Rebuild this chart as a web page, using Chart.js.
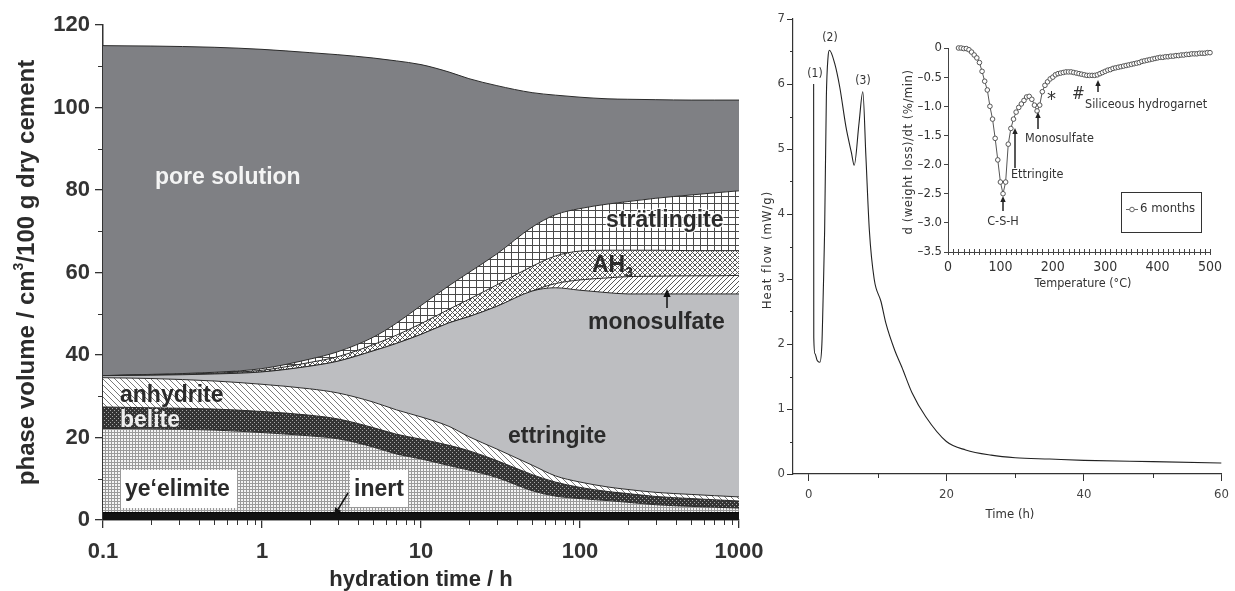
<!DOCTYPE html>
<html>
<head>
<meta charset="utf-8">
<title>Phase assemblage, heat flow and DTG</title>
<script src="https://cdn.jsdelivr.net/npm/chart.js@4.4.1/dist/chart.umd.min.js"></script>
<style>
  html, body { margin: 0; padding: 0; background: #fff; }
  #page { position: relative; width: 1235px; height: 591px; overflow: hidden; background: #fff; }
  #page canvas { position: absolute; }
</style>
</head>
<body>
<div id="page">
  <canvas id="phaseChart" width="780" height="591" style="left:0px;top:0px"></canvas>
  <canvas id="heatChart" width="475" height="591" style="left:760px;top:0px"></canvas>
  <canvas id="dtgChart" width="355" height="270" style="left:880px;top:30px"></canvas>
</div>
<script>
// ---- left chart: phase volumes (cm3 / 100 g dry cement) vs hydration time (h)
const hours       = [0.1, 0.2, 0.5, 1, 2, 3, 5, 7, 10, 15, 20, 30, 50, 70, 100, 150, 200, 300, 500, 700, 1000];
const inert       = [1.8, 1.8, 1.8, 1.8, 1.8, 1.8, 1.8, 1.8, 1.8, 1.8, 1.8, 1.8, 1.8, 1.8, 1.8, 1.8, 1.8, 1.8, 1.8, 1.8, 1.8];
const yeelimite   = [20.4, 20.3, 20.0, 19.4, 18.6, 17.9, 15.9, 14.2, 13.0, 11.4, 10.3, 8.5, 5.3, 4.0, 3.4, 2.9, 2.5, 1.9, 1.5, 1.3, 1.1];
const belite      = [5.2, 5.1, 5.1, 5.1, 5.0, 4.8, 4.7, 4.8, 4.8, 4.9, 4.7, 4.1, 3.9, 3.4, 2.7, 2.2, 2.1, 2.0, 1.9, 1.8, 1.7];
const anhydrite   = [7.1, 7.1, 6.8, 6.6, 6.4, 6.3, 6.2, 5.9, 5.4, 4.6, 3.4, 2.8, 2.3, 1.5, 1.3, 1.1, 1.0, 1.0, 1.0, 1.0, 1.0];
const ettringite  = [0.5, 0.8, 1.7, 3.0, 5.5, 7.7, 12.4, 16.1, 20.0, 25.1, 29.1, 34.6, 42.2, 45.6, 46.5, 47.1, 47.4, 48.1, 48.6, 48.9, 49.2];
const monosulfate = [0, 0, 0, 0, 0, 0, 0, 0, 0, 0, 0, 0, 0, 1.0, 2.5, 3.6, 4.2, 4.3, 4.4, 4.4, 4.5];
const ah3         = [0, 0.1, 0.2, 0.4, 0.9, 1.1, 1.5, 2.0, 2.6, 3.3, 4.2, 5.2, 6.0, 6.7, 7.0, 6.7, 6.4, 6.3, 6.1, 6.1, 6.0];
const stratlingite= [0, 0.1, 0.2, 0.4, 0.8, 1.2, 1.8, 2.9, 4.4, 5.7, 6.5, 7.5, 9.5, 10.0, 10.3, 11.2, 11.8, 12.6, 13.5, 14.0, 14.5];
const poreSolution= [80.0, 79.6, 78.8, 77.4, 74.3, 72.0, 67.7, 63.6, 58.4, 51.8, 47.0, 40.8, 32.6, 29.0, 27.0, 25.5, 24.8, 23.9, 23.0, 22.5, 22.0];
const phaseXTicks = [0.1, 1, 10, 100, 1000];
const phaseXMinor = [0.2, 0.3, 0.4, 0.5, 0.6, 0.7, 0.8, 0.9, 2, 3, 4, 5, 6, 7, 8, 9, 20, 30, 40, 50, 60, 70, 80, 90, 200, 300, 400, 500, 600, 700, 800, 900];
const phaseYTicks = [0, 20, 40, 60, 80, 100, 120];
const phaseYMinor = [10, 30, 50, 70, 90, 110];

// ---- right chart: heat flow (mW/g) vs time (h)
const heatTime = [0.7, 0.72, 0.9, 1.2, 1.6, 1.9, 2.1, 2.3, 2.55, 2.8, 3.0, 3.75, 4.5, 5.4, 6.2, 6.6, 7.3, 7.85, 8.3, 8.8, 9.5, 10.5, 11.2, 12.5, 13.5, 15, 17, 20, 22.8, 26.5, 30, 35, 40, 50, 60];
const heatFlow = [6.0, 2.1, 1.85, 1.75, 1.72, 2.0, 2.8, 3.75, 5.8, 6.42, 6.52, 6.32, 5.95, 5.34, 4.94, 4.75, 5.4, 5.88, 4.88, 3.75, 3.0, 2.65, 2.32, 1.9, 1.65, 1.25, 0.88, 0.5, 0.37, 0.29, 0.25, 0.23, 0.21, 0.19, 0.17];
const heatXTicks = [0, 20, 40, 60];
const heatXMinor = [10, 30, 50];
const heatYTicks = [0, 1, 2, 3, 4, 5, 6, 7];
const heatYMinor = [0.5, 1.5, 2.5, 3.5, 4.5, 5.5, 6.5];

// ---- inset: d(weight loss)/dt (%/min) vs temperature (C), 6 months
const dtgTemp = [20, 25, 30, 35, 40, 45, 50, 55, 60, 65, 70, 75, 80, 85, 90, 95, 100, 105, 110, 115,
  120, 125, 130, 135, 140, 145, 150, 155, 160, 165, 170, 175, 180, 185, 190, 195, 200, 205, 210, 215,
  220, 225, 230, 235, 240, 245, 250, 255, 260, 265, 270, 275, 280, 285, 290, 295, 300, 305, 310, 315,
  320, 325, 330, 335, 340, 345, 350, 355, 360, 365, 370, 375, 380, 385, 390, 395, 400, 405, 410, 415,
  420, 425, 430, 435, 440, 445, 450, 455, 460, 465, 470, 475, 480, 485, 490, 495, 500];
const dtgRate = [0.00, 0.00, -0.01, -0.01, -0.03, -0.07, -0.12, -0.17, -0.25, -0.40, -0.57, -0.72, -1.00, -1.22, -1.55, -1.92, -2.30, -2.50, -2.30, -1.65,
  -1.38, -1.22, -1.10, -1.02, -0.96, -0.90, -0.84, -0.83, -0.88, -0.98, -1.08, -0.98, -0.75, -0.64, -0.58, -0.53, -0.50, -0.46, -0.44, -0.43,
  -0.42, -0.41, -0.41, -0.41, -0.42, -0.43, -0.44, -0.45, -0.46, -0.47, -0.47, -0.47, -0.47, -0.46, -0.44, -0.42, -0.40, -0.38, -0.37, -0.35,
  -0.34, -0.33, -0.32, -0.31, -0.30, -0.29, -0.28, -0.27, -0.26, -0.25, -0.23, -0.22, -0.21, -0.20, -0.19, -0.18, -0.17, -0.16, -0.16, -0.15,
  -0.15, -0.14, -0.14, -0.13, -0.13, -0.12, -0.12, -0.11, -0.11, -0.10, -0.10, -0.10, -0.09, -0.09, -0.09, -0.08, -0.08];
const dtgXTicks = [0, 50, 100, 150, 200, 250, 300, 350, 400, 450, 500];
const dtgYTicks = [0, -0.5, -1.0, -1.5, -2.0, -2.5, -3.0, -3.5];

const SANS = '"Liberation Sans", Arial, Helvetica, sans-serif';
const NARROW = '"Liberation Sans Narrow", "DejaVu Sans Condensed", "Liberation Sans", sans-serif';
const INK = '#2b2b2b';

// fill patterns for the hatched phases
function makePattern(size, bg, draw) {
  const c = document.createElement('canvas');
  c.width = size; c.height = size;
  const g = c.getContext('2d');
  g.fillStyle = bg;
  g.fillRect(0, 0, size, size);
  draw(g, size);
  return g.createPattern(c, 'repeat');
}
const fills = {
  inert: '#111111',
  yeelimite: makePattern(3, '#f4f4f4', (g, s) => { g.fillStyle = '#9a9a9a'; g.fillRect(0, 0, s, 1); g.fillRect(0, 0, 1, s); }),
  belite: makePattern(4, '#343434', (g) => { g.fillStyle = '#a8a8a8'; g.fillRect(0, 0, 1, 1); g.fillRect(2, 2, 1, 1); }),
  anhydrite: makePattern(6, '#ffffff', (g, s) => { g.fillStyle = '#7a7a7a'; for (let i = 0; i < s; i++) g.fillRect(i, i, 1, 1); }),
  ettringite: '#bdbec1',
  monosulfate: makePattern(5, '#ffffff', (g, s) => { g.fillStyle = '#555'; for (let i = 0; i < s; i++) g.fillRect(s - 1 - i, i, 1, 1); }),
  ah3: makePattern(5, '#ffffff', (g, s) => { g.fillStyle = '#555'; for (let i = 0; i < s; i++) { g.fillRect(i, i, 1, 1); g.fillRect(s - 1 - i, i, 1, 1); } }),
  stratlingite: makePattern(7, '#ffffff', (g, s) => { g.fillStyle = '#4a4a4a'; g.fillRect(0, 0, s, 1); g.fillRect(0, 0, 1, s); }),
  pore: '#7f8084'
};

function toPoints(xs, ys) { return xs.map((x, i) => ({ x: x, y: ys[i] })); }

function arrow(ctx, x1, y1, x2, y2, head, color) {
  const a = Math.atan2(y2 - y1, x2 - x1);
  const bx = x2 - head * Math.cos(a), by = y2 - head * Math.sin(a);
  ctx.strokeStyle = color; ctx.fillStyle = color; ctx.lineWidth = 1.5;
  ctx.beginPath(); ctx.moveTo(x1, y1); ctx.lineTo(bx, by); ctx.stroke();
  ctx.beginPath(); ctx.moveTo(x2, y2);
  ctx.lineTo(bx + head * 0.45 * Math.sin(a), by - head * 0.45 * Math.cos(a));
  ctx.lineTo(bx - head * 0.45 * Math.sin(a), by + head * 0.45 * Math.cos(a));
  ctx.closePath(); ctx.fill();
}

// short ticks that Chart.js cannot size separately
function minorTicks(ctx, scale, values, len, color, both) {
  ctx.strokeStyle = color; ctx.lineWidth = 1;
  values.forEach(v => {
    const p = Math.round(scale.getPixelForValue(v)) + 0.5;
    ctx.beginPath();
    if (scale.isHorizontal()) { ctx.moveTo(p, scale.top - (both ? len : 0)); ctx.lineTo(p, scale.top + len); }
    else { ctx.moveTo(scale.right - len, p); ctx.lineTo(scale.right + (both ? len : 0), p); }
    ctx.stroke();
  });
}

// ================= left chart =================
const phaseLayers = [
  { label: 'inert', data: inert, fill: 'origin', bg: fills.inert },
  { label: 'ye\u2018elimite', data: yeelimite, fill: '-1', bg: fills.yeelimite },
  { label: 'belite', data: belite, fill: '-1', bg: fills.belite },
  { label: 'anhydrite', data: anhydrite, fill: '-1', bg: fills.anhydrite },
  { label: 'ettringite', data: ettringite, fill: '-1', bg: fills.ettringite },
  { label: 'monosulfate', data: monosulfate, fill: '-1', bg: fills.monosulfate },
  { label: 'AH3', data: ah3, fill: '-1', bg: fills.ah3 },
  { label: 'str\u00e4tlingite', data: stratlingite, fill: '-1', bg: fills.stratlingite },
  { label: 'pore solution', data: poreSolution, fill: '-1', bg: fills.pore }
];

const phaseLabels = {
  id: 'phaseLabels',
  afterDraw(chart) {
    const ctx = chart.ctx;
    const x = chart.scales.x, y = chart.scales.y;
    ctx.save();
    minorTicks(ctx, x, phaseXMinor, 5, '#333', false);
    minorTicks(ctx, y, phaseYMinor, 5, '#333', false);

    ctx.font = 'bold 23px ' + SANS;
    ctx.textBaseline = 'middle';
    ctx.textAlign = 'left';
    ctx.lineJoin = 'round';
    ctx.fillStyle = '#f4f4f4';
    ctx.fillText('pore solution', 155, 178);
    ctx.strokeStyle = 'rgba(255,255,255,0.85)';
    ctx.lineWidth = 2.5;
    ctx.strokeText('str\u00e4tlingite', 606, 221);
    ctx.fillStyle = INK;
    ctx.fillText('str\u00e4tlingite', 606, 221);
    ctx.fillText('AH', 592, 266);
    const ahW = ctx.measureText('AH').width;
    ctx.font = 'bold 14px ' + SANS;
    ctx.fillText('3', 592 + ahW, 273);
    ctx.font = 'bold 23px ' + SANS;
    ctx.fillText('monosulfate', 588, 323);
    ctx.fillText('ettringite', 508, 437);
    ctx.fillText('anhydrite', 120, 396);
    ctx.fillStyle = '#eeeeee';
    ctx.fillText('belite', 120, 421);

    ctx.fillStyle = '#ffffff';
    ctx.fillRect(121, 470, 116, 38);
    ctx.fillRect(350, 470, 58, 37);
    ctx.fillStyle = INK;
    ctx.fillText('ye\u2018elimite', 125, 490);
    ctx.fillText('inert', 354, 490);

    arrow(ctx, 667, 308, 667, 289, 8, '#111');
    arrow(ctx, 348, 493, 334, 516, 8, '#111');

    // axis titles
    ctx.fillStyle = INK;
    ctx.textAlign = 'center';
    ctx.font = 'bold 22px ' + SANS;
    ctx.fillText('hydration time / h', x.getPixelForValue(10), 580);

    ctx.translate(27, (y.top + y.bottom) / 2);
    ctx.rotate(-Math.PI / 2);
    const partA = 'phase volume / cm', partB = '3', partC = '/100 g dry cement';
    ctx.font = 'bold 24px ' + SANS;
    const wA = ctx.measureText(partA).width, wC = ctx.measureText(partC).width;
    ctx.font = 'bold 14px ' + SANS;
    const wB = ctx.measureText(partB).width;
    let cx = -(wA + wB + wC) / 2;
    ctx.textAlign = 'left';
    ctx.font = 'bold 24px ' + SANS;
    ctx.fillText(partA, cx, 0);
    ctx.font = 'bold 14px ' + SANS;
    ctx.fillText(partB, cx + wA, -8);
    ctx.font = 'bold 24px ' + SANS;
    ctx.fillText(partC, cx + wA + wB, 0);
    ctx.restore();
  }
};

new Chart(document.getElementById('phaseChart'), {
  type: 'line',
  data: {
    datasets: phaseLayers.map(l => ({
      label: l.label,
      data: toPoints(hours, l.data),
      fill: l.fill,
      backgroundColor: l.bg,
      borderColor: l.label === 'inert' ? '#000' : '#2a2a2a',
      borderWidth: 1,
      pointRadius: 0,
      cubicInterpolationMode: 'monotone'
    }))
  },
  options: {
    responsive: false,
    animation: false,
    devicePixelRatio: 1,
    layout: { padding: { top: 25, right: 41, bottom: 0, left: 0 } },
    plugins: { legend: { display: false }, tooltip: { enabled: false } },
    scales: {
      x: {
        type: 'logarithmic', min: 0.1, max: 1000,
        afterBuildTicks: s => { s.ticks = phaseXTicks.map(v => ({ value: v })); },
        afterFit: s => { s.height = 71; },
        ticks: { autoSkip: false, maxRotation: 0, padding: 11, color: '#333',
                 font: { family: SANS, size: 22, weight: 'bold' }, callback: v => String(v) },
        grid: { drawOnChartArea: false, tickLength: 8, color: '#333', lineWidth: 1.3 },
        border: { color: '#333', width: 1.5 }
      },
      y: {
        stacked: true, min: 0, max: 120,
        afterBuildTicks: s => { s.ticks = phaseYTicks.map(v => ({ value: v })); },
        afterFit: s => { s.width = 103; },
        ticks: { padding: 5, color: '#333', font: { family: SANS, size: 22, weight: 'bold' } },
        grid: { drawOnChartArea: false, tickLength: 8, color: '#333', lineWidth: 1.3 },
        border: { color: '#333', width: 1.5 }
      }
    }
  },
  plugins: [phaseLabels]
});

// ================= right chart: heat flow =================
const heatLabels = {
  id: 'heatLabels',
  afterDraw(chart) {
    const ctx = chart.ctx;
    ctx.save();
    minorTicks(ctx, chart.scales.x, heatXMinor, 4, '#333', false);
    minorTicks(ctx, chart.scales.y, heatYMinor, 3, '#333', false);
    ctx.fillStyle = '#333';
    ctx.textAlign = 'center';
    ctx.textBaseline = 'middle';
    ctx.font = '12px ' + NARROW;
    ctx.fillText('(1)', 55, 74);
    ctx.fillText('(2)', 70, 38);
    ctx.fillText('(3)', 103, 81);
    ctx.font = '13px ' + NARROW;
    ctx.fillText('Time (h)', 250, 515);
    ctx.translate(8, 250);
    ctx.rotate(-Math.PI / 2);
    ctx.letterSpacing = '1px';
    ctx.fillText('Heat flow (mW/g)', 0, 0);
    ctx.restore();
  }
};

new Chart(document.getElementById('heatChart'), {
  type: 'line',
  data: {
    datasets: [{
      label: 'Heat flow',
      data: toPoints(heatTime, heatFlow),
      borderColor: '#222',
      borderWidth: 1.1,
      pointRadius: 0,
      fill: false,
      cubicInterpolationMode: 'monotone'
    }]
  },
  options: {
    responsive: false,
    animation: false,
    devicePixelRatio: 1,
    layout: { padding: { top: 19, right: 10, bottom: 0, left: 0 } },
    plugins: { legend: { display: false }, tooltip: { enabled: false } },
    scales: {
      x: {
        type: 'linear', min: -2.3, max: 60,
        afterBuildTicks: s => { s.ticks = heatXTicks.map(v => ({ value: v })); },
        afterFit: s => { s.height = 117; },
        ticks: { padding: 6, color: '#444', font: { family: NARROW, size: 13 } },
        grid: { drawOnChartArea: false, tickLength: 7, color: '#333' },
        border: { color: '#333', width: 1.2 }
      },
      y: {
        min: 0, max: 7,
        afterBuildTicks: s => { s.ticks = heatYTicks.map(v => ({ value: v })); },
        afterFit: s => { s.width = 33; },
        ticks: { padding: 2, color: '#444', font: { family: NARROW, size: 13 } },
        grid: { drawOnChartArea: false, tickLength: 6, color: '#333' },
        border: { color: '#333', width: 1.2 }
      }
    }
  },
  plugins: [heatLabels]
});

// ================= inset: DTG =================
const dtgLabels = {
  id: 'dtgLabels',
  afterDraw(chart) {
    const ctx = chart.ctx;
    const x = chart.scales.x;
    ctx.save();
    const allT = [];
    for (let t = 0; t <= 500; t += 10) allT.push(t);
    minorTicks(ctx, x, allT, 3, '#444', true);

    ctx.fillStyle = '#333';
    ctx.textBaseline = 'middle';
    ctx.textAlign = 'center';
    ctx.font = '12.5px ' + NARROW;
    ctx.fillText('Temperature (\u00b0C)', 203, 254);
    ctx.fillText('C-S-H', 123, 192);
    ctx.textAlign = 'left';
    ctx.fillText('Ettringite', 131, 145);
    ctx.fillText('Monosulfate', 145, 109);
    ctx.fillText('Siliceous hydrogarnet', 205, 75);
    ctx.font = '20px ' + NARROW;
    ctx.fillText('*', 167, 70);
    ctx.font = '17px ' + NARROW;
    ctx.fillText('#', 192, 65);

    arrow(ctx, 123, 181, 123, 166, 6, '#222');
    arrow(ctx, 135, 138, 135, 98, 6, '#222');
    arrow(ctx, 158, 99, 158, 82, 6, '#222');
    arrow(ctx, 218, 62, 218, 50, 6, '#222');

    // legend box
    ctx.strokeStyle = '#333'; ctx.lineWidth = 1;
    ctx.strokeRect(241.5, 162.5, 80, 40);
    ctx.strokeStyle = '#666';
    ctx.beginPath(); ctx.moveTo(246, 179.5); ctx.lineTo(258, 179.5); ctx.stroke();
    ctx.fillStyle = '#fff';
    ctx.beginPath(); ctx.arc(252, 179.5, 2.3, 0, Math.PI * 2); ctx.fill(); ctx.stroke();
    ctx.fillStyle = '#333';
    ctx.font = '13px ' + NARROW;
    ctx.fillText('6 months', 260, 179);

    ctx.translate(29, 122);
    ctx.rotate(-Math.PI / 2);
    ctx.textAlign = 'center';
    ctx.letterSpacing = '0.5px';
    ctx.font = '13px ' + NARROW;
    ctx.fillText('d (weight loss)/dt (%/min)', 0, 0);
    ctx.restore();
  }
};

new Chart(document.getElementById('dtgChart'), {
  type: 'line',
  data: {
    datasets: [{
      label: '6 months',
      data: toPoints(dtgTemp, dtgRate),
      borderColor: '#555',
      borderWidth: 1,
      pointRadius: 2.3,
      pointBorderWidth: 1,
      pointBackgroundColor: '#fff',
      pointBorderColor: '#555',
      fill: false,
      tension: 0,
      clip: false
    }]
  },
  options: {
    responsive: false,
    animation: false,
    devicePixelRatio: 1,
    layout: { padding: { top: 18, right: 25, bottom: 0, left: 0 } },
    plugins: { legend: { display: false }, tooltip: { enabled: false } },
    scales: {
      x: {
        type: 'linear', min: 0, max: 500,
        afterBuildTicks: s => { s.ticks = dtgXTicks.map(v => ({ value: v })); },
        afterFit: s => { s.height = 48; },
        ticks: { padding: 7, color: '#333', maxRotation: 0, font: { family: NARROW, size: 14 } },
        grid: { drawOnChartArea: false, drawTicks: false },
        border: { color: '#444', width: 1 }
      },
      y: {
        min: -3.5, max: 0,
        afterBuildTicks: s => { s.ticks = dtgYTicks.map(v => ({ value: v })); },
        afterFit: s => { s.width = 68; },
        ticks: { padding: 2, color: '#333', font: { family: NARROW, size: 13 },
                 callback: v => v === 0 ? '0' : '\u2013' + Math.abs(v).toFixed(1) },
        grid: { drawOnChartArea: false, tickLength: 4, color: '#444' },
        border: { color: '#444', width: 1 }
      }
    }
  },
  plugins: [dtgLabels]
});
</script>
</body>
</html>
